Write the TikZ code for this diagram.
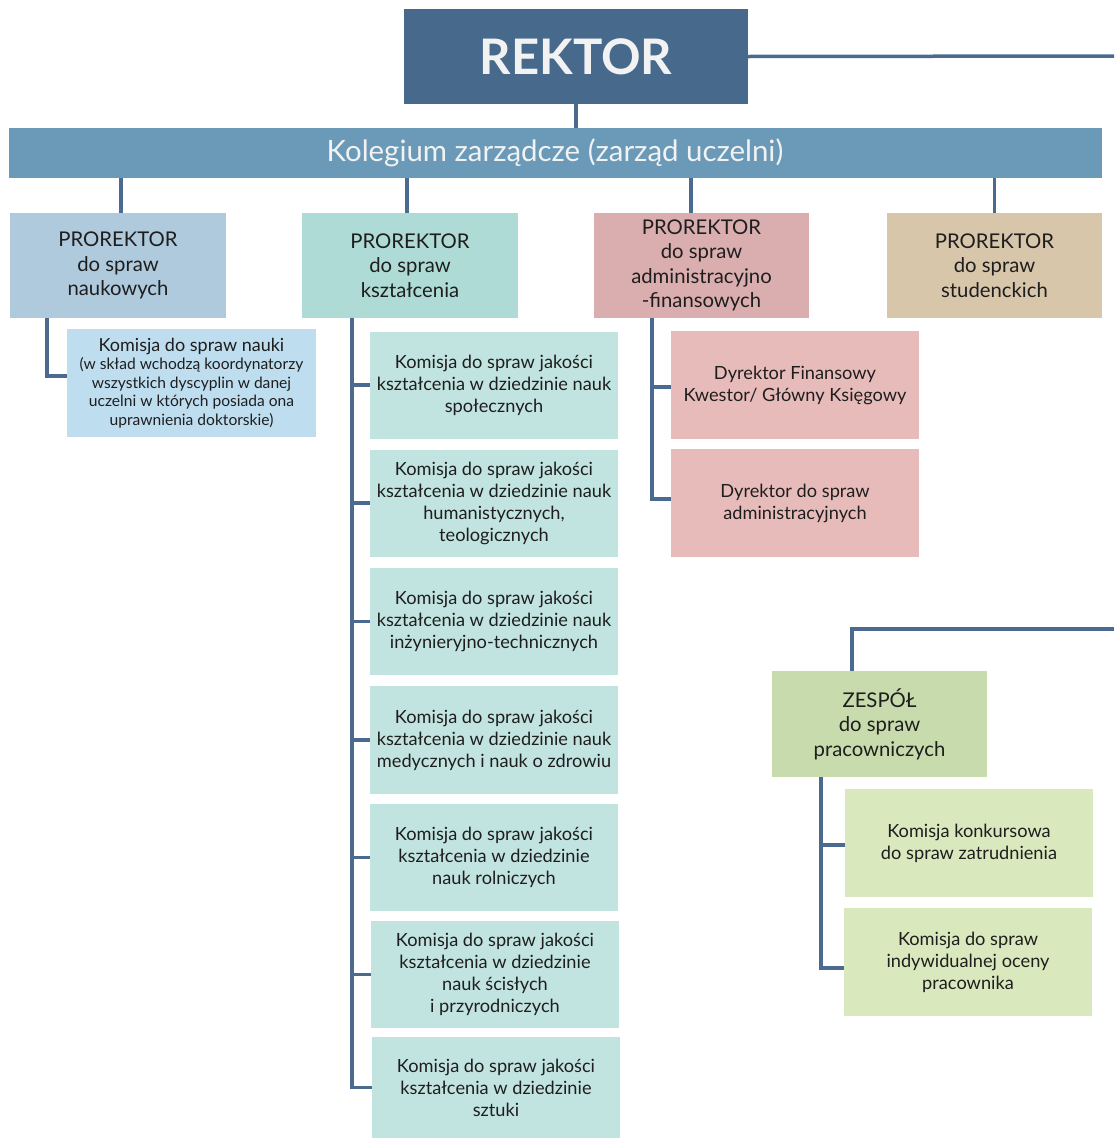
\documentclass[tikz,border=0pt]{standalone}
\usepackage{fontspec}
\setmainfont{Lato}
\definecolor{rek}{HTML}{476A8C}
\definecolor{kol}{HTML}{6A9AB8}
\definecolor{lin}{HTML}{4A6B8F}
\definecolor{pa}{HTML}{AFCADD}
\definecolor{pb}{HTML}{AEDBD5}
\definecolor{pc}{HTML}{DAAEAF}
\definecolor{pd}{HTML}{D8C6AA}
\definecolor{kn}{HTML}{BEDEF0}
\definecolor{kk}{HTML}{C2E4E0}
\definecolor{ka}{HTML}{E8BBBB}
\definecolor{zp}{HTML}{C8DBAD}
\definecolor{zk}{HTML}{DAE8BE}
\definecolor{txt}{HTML}{1E1E1E}
\tikzset{
  box/.style={rectangle, inner sep=0pt, align=center, text=txt},
  prorbox/.style={box, minimum width=216pt, minimum height=105pt, font=\fontsize{20.3}{24.5}\selectfont},
  kombox/.style={box, minimum width=248pt, minimum height=107pt, font=\fontsize{18.2}{22}\selectfont},
  conn/.style={draw=lin, line width=3.5pt},
}
\begin{document}
\begin{tikzpicture}[x=1pt,y=-1pt]
\useasboundingbox (0,0) rectangle (1114,1138);
% top
\node[box, fill=rek, minimum width=344pt, minimum height=95pt, text=white!95!black, font=\fontsize{49}{49}\bfseries\selectfont] (rektor) at (576,56.5) {REKTOR};
\node[box, fill=kol, minimum width=1093pt, minimum height=50pt, text=white!95!black, font=\fontsize{29.4}{30}\selectfont] (kolegium) at (555,153) {Kolegium zarządcze (zarząd uczelni)};
\coordinate (rr) at (1114,56);
\draw[conn] (rektor.east) -- (rr);
\draw[conn] (rektor.south) -- (rektor.south |- kolegium.north);
% prorektors
\node[prorbox, fill=pa] (p1) at (118,265.5) {PROREKTOR\\do spraw\\naukowych};
\node[prorbox, fill=pb] (p2) at (410,265.5) {PROREKTOR\\do spraw\\kształcenia};
\node[prorbox, fill=pc, minimum width=215pt] (p3) at (701.5,265.5) {PROREKTOR\\do spraw\\administracyjno\\-finansowych};
\node[prorbox, fill=pd, minimum width=215pt] (p4) at (994.5,265.5) {PROREKTOR\\do spraw\\studenckich};
\draw[conn] ([xshift=3pt]p1.north) -- ([xshift=3pt]p1.north |- kolegium.south);
\draw[conn] ([xshift=-3pt]p2.north) -- ([xshift=-3pt]p2.north |- kolegium.south);
\draw[conn] ([xshift=-10.5pt]p3.north) -- ([xshift=-10.5pt]p3.north |- kolegium.south);
\draw[conn] (p4.north) -- (p4.north |- kolegium.south);
% naukowych
\node[box, fill=kn, minimum width=249pt, minimum height=108pt, font=\fontsize{15.6}{18.6}\selectfont] (kn) at (191.5,383) {{\fontsize{18}{20}\selectfont Komisja do spraw nauki}\\(w skład wchodzą koordynatorzy\\wszystkich dyscyplin w danej\\uczelni w których posiada ona\\uprawnienia doktorskie)};
\coordinate (s1) at (47,318);
\draw[conn] (s1) |- ([yshift=7pt]kn.west);
% ksztalcenia
\node[kombox, fill=kk] (k1) at (494,385) {Komisja do spraw jakości\\kształcenia w dziedzinie nauk\\społecznych};
\node[kombox, fill=kk] (k2) at (494,503) {Komisja do spraw jakości\\kształcenia w dziedzinie nauk\\humanistycznych,\\teologicznych};
\node[kombox, fill=kk] (k3) at (494,621.5) {Komisja do spraw jakości\\kształcenia w dziedzinie nauk\\inżynieryjno-technicznych};
\node[kombox, fill=kk, minimum height=108pt] (k4) at (494,740) {Komisja do spraw jakości\\kształcenia w dziedzinie nauk\\medycznych i nauk o zdrowiu};
\node[kombox, fill=kk] (k5) at (494,857.5) {Komisja do spraw jakości\\kształcenia w dziedzinie\\nauk rolniczych};
\node[kombox, fill=kk] (k6) at (495,974.5) {Komisja do spraw jakości\\kształcenia w dziedzinie\\nauk ścisłych\\i przyrodniczych};
\node[kombox, fill=kk, minimum height=101pt] (k7) at (496,1087.5) {Komisja do spraw jakości\\kształcenia w dziedzinie\\sztuki};
\coordinate (s2) at (352,318);
\draw[conn] (s2) |- (k7.west);
\foreach \k in {k1,k2,k3,k4,k5,k6} \draw[conn] (\k.west) -- (\k.west -| s2);
% administracyjno-finansowych
\node[kombox, fill=ka, minimum height=108pt] (a1) at (795,385) {Dyrektor Finansowy\\Kwestor/ Główny Księgowy};
\node[kombox, fill=ka, minimum height=108pt] (a2) at (795,503) {Dyrektor do spraw\\administracyjnych};
\coordinate (s3) at (652,318);
\draw[conn] (s3) |- ([yshift=4pt]a2.west);
\draw[conn] ([yshift=-2pt]a1.west) -- ([yshift=-2pt]a1.west -| s3);
% zespol
\node[prorbox, fill=zp, minimum width=215pt, minimum height=106pt] (z) at (879.5,724) {ZESPÓŁ\\do spraw\\pracowniczych};
\coordinate (zr) at (1114,629);
\draw[conn] (zr) -| ([xshift=-27.5pt]z.north);
\node[kombox, fill=zk, minimum height=108pt] (z1) at (969,843) {Komisja konkursowa\\do spraw zatrudnienia};
\node[kombox, fill=zk, minimum height=108pt] (z2) at (968,962) {Komisja do spraw\\indywidualnej oceny\\pracownika};
\coordinate (s4) at (821,777);
\draw[conn] (s4) |- ([yshift=-6pt]z2.west);
\draw[conn] ([yshift=-2pt]z1.west) -- ([yshift=-2pt]z1.west -| s4);
\end{tikzpicture}
\end{document}
